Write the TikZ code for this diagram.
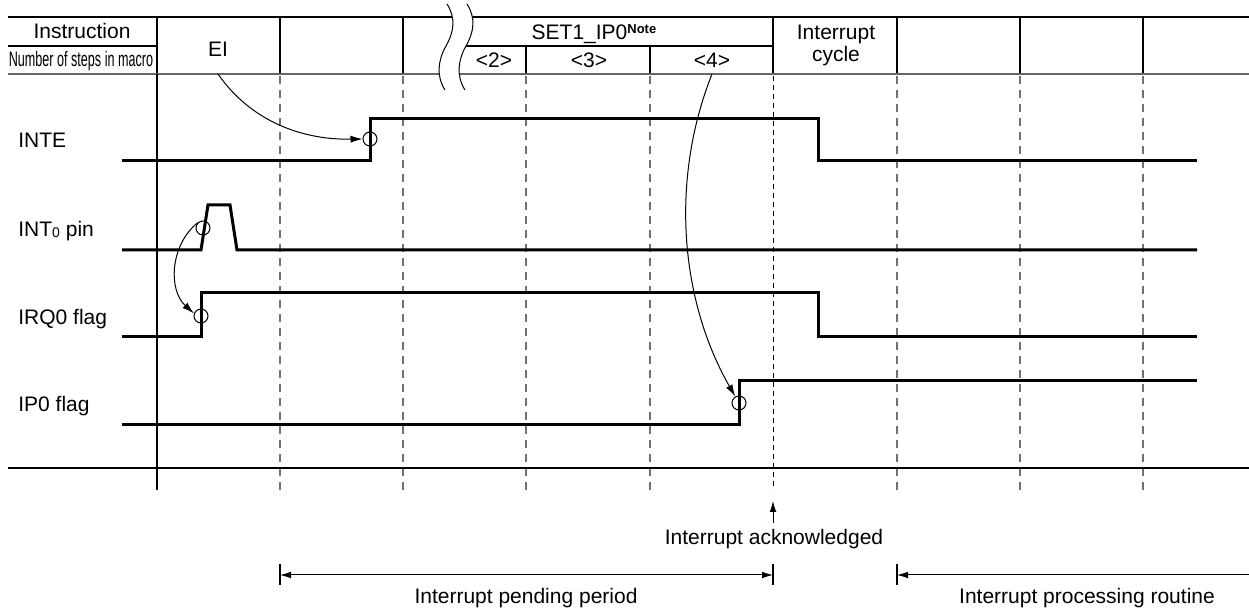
\documentclass[tikz,border=0pt]{standalone}
\usepackage{graphicx}
\usepackage{fontspec}
\setmainfont{Liberation Sans}
\usetikzlibrary{arrows.meta}
\tikzset{ltip/.tip={Latex[length=5.5pt,width=3.4pt]}}
\begin{document}
\begin{tikzpicture}[x=0.5pt,y=-0.5pt,
  rule/.style={line width=0.6pt},
  sig/.style={line width=1.5pt, line join=miter},
  griddash/.style={draw=black!55, line width=0.7pt, dash pattern=on 4pt off 3pt},
  ackdash/.style={draw=black, line width=0.5pt, dash pattern=on 2.5pt off 2pt},
  markcircle/.style={circle, draw, line width=0.5pt, minimum size=7pt, inner sep=0pt},
  lbl/.style={font=\fontsize{10.5}{12}\selectfont, inner sep=0pt, anchor=base},
  sidelbl/.style={font=\fontsize{10.5}{12}\selectfont, inner sep=0pt, anchor=base west},
  curvarrow/.style={line width=0.5pt, -{Latex[length=6pt,width=3.6pt]}},
]
\useasboundingbox (0,0) rectangle (1249,614);

% header rules
\draw[rule] (8,17) -- (1249,17);
\draw[rule] (8,46) -- (157,46);
\draw[rule] (466,46) -- (773,46);
\foreach \x in {157,280,403,773,897,1020,1143} \draw[rule] (\x,17) -- (\x,74);
\foreach \x in {526,650} \draw[rule] (\x,46) -- (\x,74);
\draw[line width=0.9pt, black!60] (8,74) -- (1249,74);

% grid below header
\draw[rule] (157,74) -- (157,490);
\foreach \x in {280,403,526,650,897,1020,1143} \draw[griddash] (\x,76) -- (\x,490);
\draw[ackdash] (773,76) -- (773,490);
\draw[rule] (8,468) -- (1249,468);

% break symbol
\fill[white] (447,4) .. controls (456,18) and (454,32) .. (446,46)
  .. controls (438,60) and (436,76) .. (445,90) -- (465,90)
  .. controls (456,76) and (458,60) .. (466,46)
  .. controls (474,32) and (476,18) .. (467,4) -- cycle;
\draw[line width=0.5pt] (447,4) .. controls (456,18) and (454,32) .. (446,46)
  .. controls (438,60) and (436,76) .. (445,90);
\draw[line width=0.5pt] (467,4) .. controls (476,18) and (474,32) .. (466,46)
  .. controls (458,60) and (456,76) .. (465,90);

% header texts
\node[lbl] (instr) at (82,39) {Instruction};
\node[lbl] (steps) at (81,67) {\scalebox{0.6}[1]{Number of steps in macro}};
\node[lbl] (ei) at (218,57) {EI};
\node[lbl] (set) at (594,40) {SET1\_IP0\raisebox{3pt}{\fontsize{6.5}{7}\selectfont\bfseries Note}};
\node[lbl] (s2) at (494,68) {<2>};
\node[lbl] (s3) at (589,68) {<3>};
\node[lbl] (s4) at (712,68) {<4>};
\node[lbl] (ic1) at (836,40) {Interrupt};
\node[lbl] (ic2) at (836,62) {cycle};

% signal labels
\node[sidelbl] (linte) at (18,148) {INTE};
\node[sidelbl] (lint0) at (18,237) {INT\raisebox{-0.5pt}{\fontsize{7}{8}\selectfont 0} pin};
\node[sidelbl] (lirq) at (18,325) {IRQ0 flag};
\node[sidelbl] (lip) at (18,412) {IP0 flag};

% waveforms
\draw[sig] (122,161) -- (370,161) -- (370,119) -- (818,119) -- (818,161) -- (1197,161);
\draw[sig] (122,250) -- (201,250) -- (208,205) -- (230,205) -- (237,250) -- (1197,250);
\draw[sig] (122,337) -- (201,337) -- (201,293) -- (818,293) -- (818,337) -- (1197,337);
\draw[sig] (122,425) -- (739,425) -- (739,381) -- (1197,381);

% marker circles
\node[markcircle] (c1) at (370,139) {};
\node[markcircle] (c2) at (203,228) {};
\node[markcircle] (c3) at (201,316) {};
\node[markcircle] (c4) at (739,403) {};

% cause arrows
\coordinate (eifoot) at (218,74);
\coordinate (s4foot) at (712,74);
\draw[curvarrow] (eifoot) .. controls (250,120) and (300,140) .. (c1.west);
\draw[curvarrow] (c2.135) .. controls (170,245) and (168,290) .. (c3.160);
\draw[curvarrow] (s4foot) .. controls (670,180) and (680,300) .. (c4.120);

% acknowledged
\coordinate (ackb) at (773,523);
\coordinate (ackt) at (773,501);
\draw[line width=0.5pt, -{ltip}] (ackb) -- (ackt);
\node[lbl] (ack) at (774,545) {Interrupt acknowledged};

% periods
\coordinate (p1a) at (280,575);
\coordinate (p1b) at (773,575);
\coordinate (p2a) at (897,575);
\coordinate (p2b) at (1249,575);
\draw[rule] (280,564) -- (280,585);
\draw[rule] (773,564) -- (773,585);
\draw[rule] (897,564) -- (897,585);
\draw[line width=0.5pt, {ltip}-{ltip}] (p1a) -- (p1b);
\draw[line width=0.5pt, {ltip}-] (p2a) -- (p2b);
\node[lbl] (pend) at (526,604) {Interrupt pending period};
\node[lbl] (proc) at (1087,604) {Interrupt processing routine};
\end{tikzpicture}
\end{document}
